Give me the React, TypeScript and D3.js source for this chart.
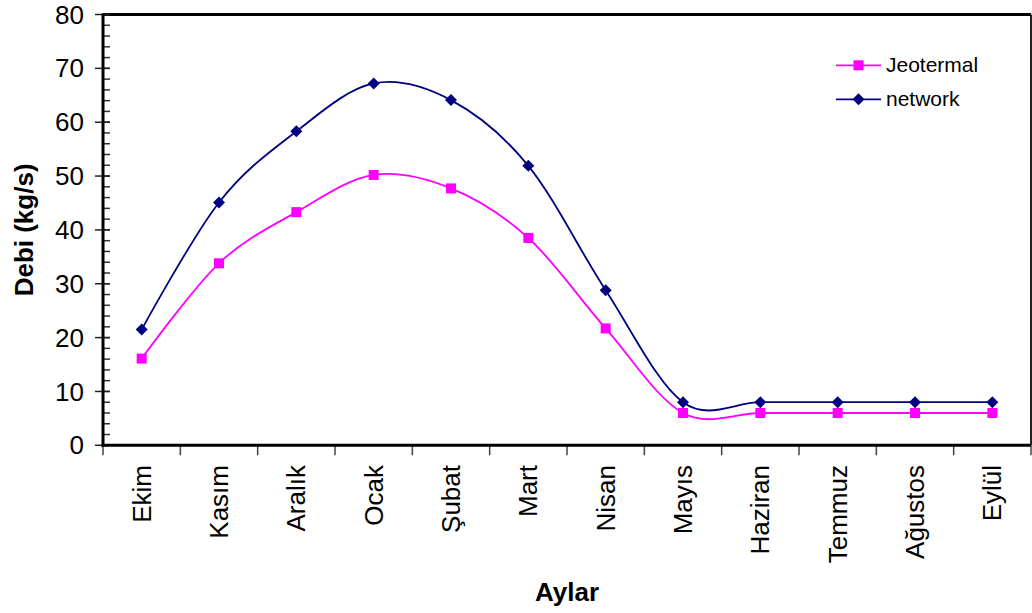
import React from "react";
import * as d3 from "d3";

const months = ["Ekim", "Kasım", "Aralık", "Ocak", "Şubat", "Mart", "Nisan", "Mayıs", "Haziran", "Temmuz", "Ağustos", "Eylül"];
const jeotermal = [16.1, 33.8, 43.3, 50.2, 47.7, 38.5, 21.7, 6, 6, 6, 6, 6];
const network = [21.5, 45.1, 58.3, 67.2, 64.1, 51.9, 28.8, 8, 8, 8, 8, 8];
const yTicks = [0, 10, 20, 30, 40, 50, 60, 70, 80];
const yMinor = d3.range(0, 81, 2);
const seriesNames = ["Jeotermal", "network"];
const seriesColors = ["#FF00FF", "#000080"];

const W = 1032, H = 613;
const L = 103, R = 1031, T = 14.5, B = 445.3;
const FONT = "'Liberation Sans', Arial, Helvetica, sans-serif";

export default function App() {
  const x = d3.scaleBand<string>().domain(months).range([L, R]).padding(0);
  const bw = x.bandwidth();
  const cx = (m: string) => (x(m) as number) + bw / 2;
  const y = d3.scaleLinear().domain([0, 80]).range([B, T]);
  const line = d3
    .line<number>()
    .x((_, i) => cx(months[i]))
    .y((d) => y(d))
    .curve(d3.curveCardinal.tension(0));
  const series = [jeotermal, network];
  const boundaries = months.map((m) => x(m) as number).concat([R]);

  const marker = (k: number, px: number, py: number, key: string) =>
    k === 0 ? (
      <rect key={key} x={px - 5} y={py - 5} width={10} height={10} fill={seriesColors[0]} />
    ) : (
      <path key={key} d={`M${px},${py - 6}L${px + 6},${py}L${px},${py + 6}L${px - 6},${py}Z`} fill={seriesColors[1]} />
    );

  return (
    <svg width={W} height={H} style={{ position: "absolute", left: 0, top: 0, background: "#fff" }} fontFamily={FONT}>
      <rect x={0} y={0} width={W} height={H} fill="#fff" />
      {/* frame */}
      <line x1={L} x2={R} y1={T} y2={T} stroke="#000" strokeWidth={3} />
      <line x1={R} x2={R} y1={T} y2={B} stroke="#222" strokeWidth={2} />
      {/* y minor ticks */}
      {yMinor.map((v) => (
        <line key={"mn" + v} x1={L} x2={L + 7} y1={y(v)} y2={y(v)} stroke="#333" strokeWidth={1.5} />
      ))}
      {yTicks.map((v) => (
        <g key={"yt" + v}>
          <line x1={L - 8} x2={L + 7} y1={y(v)} y2={y(v)} stroke="#222" strokeWidth={1.5} />
          <text x={L - 19} y={y(v)} dy="0.35em" textAnchor="end" fontSize={26} fill="#000">
            {v}
          </text>
        </g>
      ))}
      {/* x ticks */}
      {boundaries.map((b, i) => (
        <line key={"xt" + i} x1={b} x2={b} y1={B} y2={B + 10} stroke="#444" strokeWidth={1.5} />
      ))}
      {months.map((m) => (
        <text
          key={"xl" + m}
          transform={`translate(${cx(m)},${465}) rotate(-90)`}
          dy="0.35em"
          textAnchor="end"
          fontSize={26}
          fill="#000"
        >
          {m}
        </text>
      ))}
      {/* axes */}
      <line x1={L} x2={L} y1={T - 1} y2={B + 1.5} stroke="#000" strokeWidth={3} />
      <line x1={L - 1.5} x2={R} y1={B} y2={B} stroke="#000" strokeWidth={3} />
      {/* series */}
      {series.map((s, k) => (
        <g key={"s" + k}>
          <path d={line(s) || ""} fill="none" stroke={seriesColors[k]} strokeWidth={1.8} />
          {s.map((v, i) => marker(k, cx(months[i]), y(v), `m${k}-${i}`))}
        </g>
      ))}
      {/* legend */}
      {seriesNames.map((n, k) => {
        const ly = 65.3 + k * 34;
        return (
          <g key={"lg" + k}>
            <line x1={836} x2={881} y1={ly} y2={ly} stroke={seriesColors[k]} strokeWidth={1.8} />
            {marker(k, 858.5, ly, "lm" + k)}
            <text x={886} y={ly + 6.5} fontSize={21} fill="#000">
              {n}
            </text>
          </g>
        );
      })}
      {/* titles */}
      <text
        transform={`translate(33,${(T + B) / 2}) rotate(-90)`}
        textAnchor="middle"
        fontSize={26}
        fontWeight="bold"
        fill="#000"
      >
        Debi (kg/s)
      </text>
      <text x={(L + R) / 2} y={601} textAnchor="middle" fontSize={26} fontWeight="bold" fill="#000">
        Aylar
      </text>
    </svg>
  );
}
